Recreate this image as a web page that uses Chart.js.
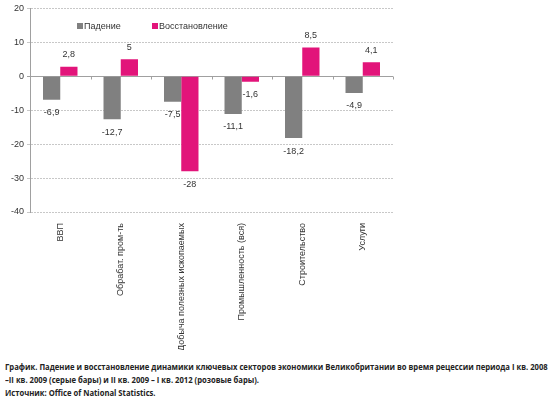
<!DOCTYPE html>
<html>
<head>
<meta charset="utf-8">
<script src="https://cdn.jsdelivr.net/npm/chart.js@4.4.0/dist/chart.umd.min.js"></script>
<style>
  body { margin: 0; background: #fff; }
  #wrap { position: relative; width: 550px; height: 350px; }
  #caption {
    position: absolute; left: 5px; top: 360px;
    font-family: "Open Sans", sans-serif; font-weight: bold;
    font-size: 8.5px; line-height: 13px; color: #222; white-space: nowrap;
    transform: scaleX(0.9); transform-origin: 0 0;
  }
</style>
</head>
<body>
<div id="wrap"><canvas id="myChart" width="550" height="350"></canvas></div>
<div id="caption">
График. Падение и восстановление динамики ключевых секторов экономики Великобритании во время рецессии периода I кв. 2008<br>
–II кв. 2009 (серые бары) и II кв. 2009 – I кв. 2012 (розовые бары).<br>
Источник: Office of National Statistics.
</div>
<script>
const categories = ['ВВП', 'Обрабат. пром-ть', 'Добыча полезных ископаемых', 'Промышленность (вся)', 'Строительство', 'Услуги'];
const declineValues = [-6.9, -12.7, -7.5, -11.1, -18.2, -4.9];
const recoveryValues = [2.8, 5, -28, -1.6, 8.5, 4.1];
const seriesNames = ['Падение', 'Восстановление'];

const grayColor = '#808080';
const pinkColor = '#e2147a';
const axisColor = '#a0a0a0';

// value labels at the bar ends
const barLabels = {
    id: 'barLabels',
    afterDatasetsDraw(chart) {
        const ctx = chart.ctx;
        ctx.save();
        ctx.font = '9px "Liberation Sans", Arial, sans-serif';
        ctx.fillStyle = '#333';
        ctx.textAlign = 'center';
        ctx.textBaseline = 'middle';
        chart.data.datasets.forEach((ds, di) => {
            const meta = chart.getDatasetMeta(di);
            meta.data.forEach((bar, i) => {
                const v = ds.data[i];
                const y = v >= 0 ? bar.y - 12 : bar.y + 13;
                ctx.fillText(String(v).replace('.', ','), bar.x, y);
            });
        });
        ctx.restore();
    }
};

// small category ticks on the zero line
const zeroTicks = {
    id: 'zeroTicks',
    beforeDatasetsDraw(chart) {
        const ctx = chart.ctx;
        const x = chart.scales.x;
        const y0 = Math.round(chart.scales.y.getPixelForValue(0)) + 0.5;
        const step = (x.right - x.left) / categories.length;
        ctx.save();
        ctx.strokeStyle = axisColor;
        ctx.lineWidth = 1;
        ctx.beginPath();
        for (let i = 1; i <= categories.length; i++) {
            const px = Math.round(x.left + step * i) + 0.5;
            ctx.moveTo(px, y0);
            ctx.lineTo(px, y0 + 3);
        }
        ctx.stroke();
        ctx.restore();
    }
};

// legend drawn inside the plot area
const innerLegend = {
    id: 'innerLegend',
    afterDraw(chart) {
        const ctx = chart.ctx;
        const xs = [77, 152];
        const colors = [grayColor, pinkColor];
        ctx.save();
        ctx.font = '9px "Liberation Sans", Arial, sans-serif';
        ctx.textBaseline = 'middle';
        seriesNames.forEach((name, i) => {
            ctx.fillStyle = colors[i];
            ctx.fillRect(xs[i], 23, 6, 6);
            ctx.fillStyle = '#333';
            ctx.fillText(name, xs[i] + 7, 27);
        });
        ctx.restore();
    }
};

const ctx = document.getElementById('myChart').getContext('2d');

const chart = new Chart(ctx, {
    type: 'bar',
    data: {
        labels: categories,
        datasets: [
            {
                label: seriesNames[0],
                data: declineValues,
                backgroundColor: grayColor,
                barPercentage: 1,
                categoryPercentage: 0.57
            },
            {
                label: seriesNames[1],
                data: recoveryValues,
                backgroundColor: pinkColor,
                barPercentage: 1,
                categoryPercentage: 0.57
            }
        ]
    },
    options: {
        responsive: false,
        animation: false,
        layout: { padding: { top: 5, right: 157, left: 0, bottom: 0 } },
        plugins: {
            legend: { display: false },
            tooltip: { enabled: false }
        },
        scales: {
            x: {
                afterFit(scale) { scale.height = 138; },
                grid: { display: false },
                border: { display: false },
                ticks: {
                    minRotation: 90,
                    maxRotation: 90,
                    autoSkip: false,
                    padding: 3,
                    color: '#333',
                    font: { family: '"Liberation Sans", Arial, sans-serif', size: 9 }
                }
            },
            y: {
                min: -40,
                max: 20,
                afterFit(scale) { scale.width = 30; },
                border: {
                    display: true,
                    color: axisColor,
                    width: 1,
                    dash: ctx => (ctx.tick && ctx.tick.value === 0) ? [] : [2, 1]
                },
                grid: {
                    color: ctx => ctx.tick.value === 0 ? axisColor : '#c8c8c8',
                    lineWidth: 1,
                    drawTicks: true,
                    tickLength: 3
                },
                ticks: {
                    stepSize: 10,
                    padding: 3,
                    color: '#333',
                    font: { family: '"Liberation Sans", Arial, sans-serif', size: 9 }
                }
            }
        }
    },
    plugins: [barLabels, zeroTicks, innerLegend]
});
</script>
</body>
</html>
